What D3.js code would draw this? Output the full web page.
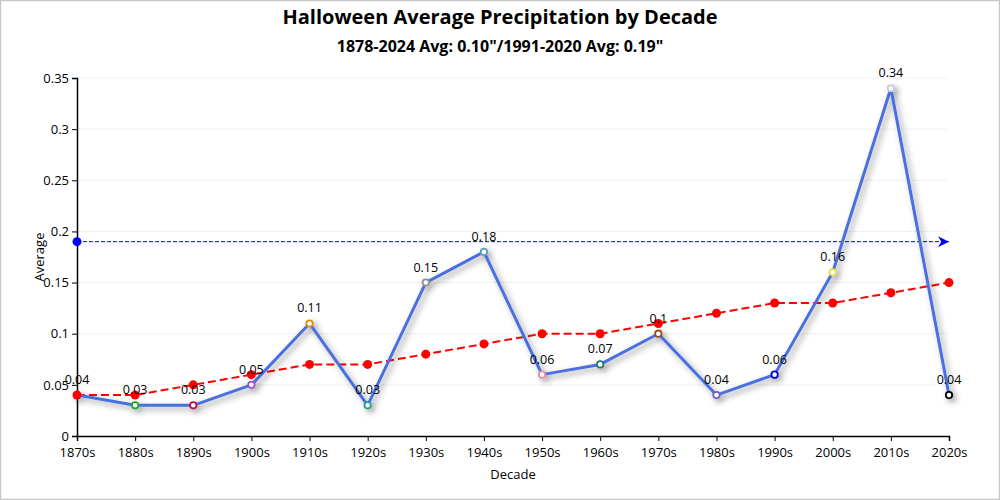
<!DOCTYPE html>
<html><head><meta charset="utf-8">
<script src="https://cdn.jsdelivr.net/npm/d3@7/dist/d3.min.js"></script>
<style>
html,body{margin:0;padding:0;background:#fff;}
svg{display:block;font-family:"Open Sans","Noto Sans",sans-serif;}
</style></head><body>
<svg id="chart" width="1000" height="500"></svg>
<script>
const decades = ["1870s","1880s","1890s","1900s","1910s","1920s","1930s","1940s","1950s","1960s","1970s","1980s","1990s","2000s","2010s","2020s"];
const averages = [0.04,0.03,0.03,0.05,0.11,0.03,0.15,0.18,0.06,0.07,0.10,0.04,0.06,0.16,0.34,0.04];
const trend = [0.04,0.04,0.05,0.06,0.07,0.07,0.08,0.09,0.10,0.10,0.11,0.12,0.13,0.13,0.14,0.15];
const markerColors = ["#e00000","#22aa22","#c0143c","#a050c8","#e08c10","#20a090","#909090","#5aa0c0","#e090a0","#2a7a6a","#9a5020","#7060c0","#0000e0","#e0e040","#c8c8e0","#000000"];
const normal = 0.19;
const yTicks = [0,0.05,0.1,0.15,0.2,0.25,0.3,0.35];
const title = "Halloween Average Precipitation by Decade";
const subtitle = "1878-2024 Avg: 0.10\"/1991-2020 Avg: 0.19\"";

const W = 1000, H = 500;
const m = {l:77, r:51, t:78, b:64};
const svg = d3.select("#chart");

const defs = svg.append("defs");
const f = defs.append("filter").attr("id","shadow").attr("x","-20%").attr("y","-20%").attr("width","140%").attr("height","140%");
f.append("feDropShadow").attr("dx",3).attr("dy",3).attr("stdDeviation",3).attr("flood-color","#000").attr("flood-opacity",0.4);
defs.append("marker").attr("id","arrow").attr("viewBox","0 0 10 10").attr("refX",10).attr("refY",5)
  .attr("markerWidth",16).attr("markerHeight",11).attr("markerUnits","userSpaceOnUse").attr("orient","auto")
  .append("path").attr("d","M0,0 L10,5 L0,10 L3,5 Z").attr("fill","#0000ff");

svg.append("rect").attr("x",0.5).attr("y",0.5).attr("width",W-1).attr("height",H-1).attr("fill","#fff").attr("stroke","#c8c8c8").attr("stroke-width",1.5);

const x = d3.scalePoint().domain(decades).range([m.l, W-m.r]);
const y = d3.scaleLinear().domain([0,0.35]).range([H-m.b, m.t]);

// grid
svg.append("g").selectAll("line").data(yTicks.slice(1)).join("line")
  .attr("x1",m.l).attr("x2",W-m.r).attr("y1",d=>y(d)).attr("y2",d=>y(d))
  .attr("stroke","#e2e2e2").attr("stroke-width",1).attr("stroke-dasharray","1,1");

// axes
const xAxis = svg.append("g").attr("transform",`translate(0,${H-m.b})`).call(d3.axisBottom(x).tickSizeOuter(0).tickSize(5));
const yAxis = svg.append("g").attr("transform",`translate(${m.l},0)`).call(d3.axisLeft(y).tickValues(yTicks).tickFormat(d=>String(+d.toFixed(2))).tickSizeOuter(0).tickSize(5));
[xAxis,yAxis].forEach(a=>{
  a.selectAll("text").attr("font-size",13).attr("fill","#000").attr("font-family","'Open Sans','Noto Sans',sans-serif");
  a.select(".domain").attr("stroke","#000").attr("stroke-width",1.5);
  a.selectAll(".tick line").attr("stroke","#000");
});
xAxis.selectAll("text").attr("dy","1.0em");

// axis titles
svg.append("text").attr("x",(m.l+W-m.r)/2).attr("y",479).attr("text-anchor","middle").attr("font-size",13).text("Decade");
svg.append("text").attr("transform",`translate(44,${(m.t+H-m.b)/2}) rotate(-90)`).attr("text-anchor","middle").attr("font-size",13).text("Average");

// titles
svg.append("text").attr("x",W/2).attr("y",24).attr("text-anchor","middle").attr("font-size",20).attr("font-weight","bold").text(title);
svg.append("text").attr("x",W/2).attr("y",52).attr("text-anchor","middle").attr("font-size",16).attr("font-weight","bold").text(subtitle);

// normal line
svg.append("line").attr("x1",x(decades[0])).attr("x2",x(decades[decades.length-1])).attr("y1",y(normal)).attr("y2",y(normal))
  .attr("stroke","#0000ff").attr("stroke-width",1).attr("stroke-dasharray","4,2").attr("marker-end","url(#arrow)");
svg.append("circle").attr("cx",x(decades[0])).attr("cy",y(normal)).attr("r",4.5).attr("fill","#0000ff");

const line = d3.line().x((d,i)=>x(decades[i])).y(d=>y(d));
// trend line
svg.append("path").datum(trend).attr("d",line).attr("fill","none").attr("stroke","#ff0000").attr("stroke-width",2).attr("stroke-dasharray","8,4");

// main line
const g = svg.append("g").attr("filter","url(#shadow)");
g.append("path").datum(averages).attr("d",line).attr("fill","none").attr("stroke","#4a6fe0").attr("stroke-width",3).attr("stroke-linejoin","round");
g.selectAll("circle").data(averages).join("circle")
  .attr("cx",(d,i)=>x(decades[i])).attr("cy",d=>y(d)).attr("r",3.2)
  .attr("fill","#fff").attr("stroke",(d,i)=>markerColors[i]).attr("stroke-width",1.8);

// trend points
svg.append("g").selectAll("circle").data(trend).join("circle")
  .attr("cx",(d,i)=>x(decades[i])).attr("cy",d=>y(d)).attr("r",4.5).attr("fill","#ff0000");

// labels
svg.append("g").selectAll("text").data(averages).join("text")
  .attr("x",(d,i)=>x(decades[i])).attr("y",d=>y(d)-11).attr("text-anchor","middle").attr("font-size",12.5).attr("fill","#000")
  .text(d=>String(+d.toFixed(2)));
</script>
</body></html>
